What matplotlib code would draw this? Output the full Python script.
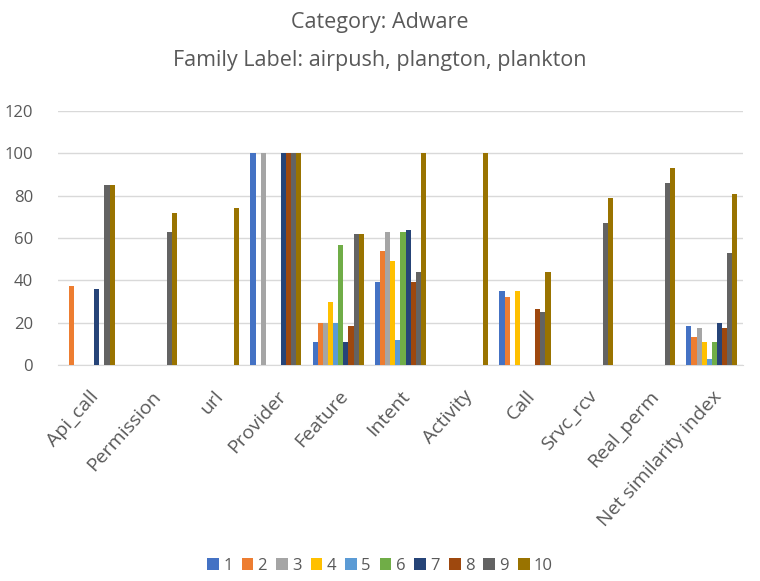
import numpy as np
import matplotlib
matplotlib.use("Agg")
import matplotlib.pyplot as plt

plt.rcParams['font.family'] = ['Open Sans', 'DejaVu Sans']

categories = ['Api_call', 'Permission', 'url', 'Provider', 'Feature', 'Intent',
              'Activity', 'Call', 'Srvc_rcv', 'Real_perm', 'Net similarity index']
series_names = ['1', '2', '3', '4', '5', '6', '7', '8', '9', '10']

# one list per series, values in category order
s1 = [0, 0, 0, 100, 11, 39, 0, 35, 0, 0, 18.5]
s2 = [37.5, 0, 0, 0, 20, 54, 0, 32, 0, 0, 13]
s3 = [0, 0, 0, 100, 20, 63, 0, 0, 0, 0, 17.5]
s4 = [0, 0, 0, 0, 30, 49, 0, 35, 0, 0, 11]
s5 = [0, 0, 0, 0, 20, 12, 0, 0, 0, 0, 3]
s6 = [0, 0, 0, 0, 56.5, 63, 0, 0, 0, 0, 11]
s7 = [36, 0, 0, 100, 11, 64, 0, 0, 0, 0, 20]
s8 = [0, 0, 0, 100, 18.5, 39, 0, 26.5, 0, 0, 17.5]
s9 = [85, 63, 0, 100, 62, 44, 0, 25, 67, 86, 53]
s10 = [85, 72, 74, 100, 62, 100, 100, 44, 79, 93, 81]
series = [s1, s2, s3, s4, s5, s6, s7, s8, s9, s10]

colors = ['#4472C4', '#ED7D31', '#A5A5A5', '#FFC000', '#5B9BD5',
          '#70AD47', '#264478', '#9E480E', '#636363', '#997300']

fig = plt.figure(figsize=(7.6, 5.81), dpi=100)
ax = fig.add_axes([0.0763, 0.3718, 0.9013, 0.437])

x = np.arange(len(categories))
w = 0.082
for i, vals in enumerate(series):
    ax.bar(x + (i - 4.5) * w, vals, w, color=colors[i], label=series_names[i],
           zorder=3)

ax.set_xlim(-0.5, len(categories) - 0.5)
ax.set_ylim(0, 120)
ax.set_yticks(range(0, 121, 20))
ax.yaxis.grid(True, color='#D9D9D9', linewidth=1, zorder=0)
for s in ['top', 'right', 'left']:
    ax.spines[s].set_visible(False)
ax.spines['bottom'].set_color('#D9D9D9')
ax.tick_params(axis='both', length=0, colors='#595959', labelsize=12)
ax.tick_params(axis='y', pad=18)
ax.tick_params(axis='x', pad=16)
ax.set_xticks(x)
ax.set_xticklabels(categories, rotation=48, ha='right', rotation_mode='anchor',
                   fontsize=14, color='#595959')

fig.text(0.5, 0.962, 'Category: Adware', ha='center', va='center',
         fontsize=15.5, color='#595959')
fig.text(0.5, 0.896, 'Family Label: airpush, plangton, plankton', ha='center',
         va='center', fontsize=15.5, color='#595959')

fig.legend(loc='center', bbox_to_anchor=(0.5, 0.026), ncol=10, frameon=False,
           fontsize=12, handlelength=0.7, handleheight=0.7, handletextpad=0.25,
           columnspacing=0.55, labelcolor='#595959')

fig.savefig('out.png', dpi=100)
